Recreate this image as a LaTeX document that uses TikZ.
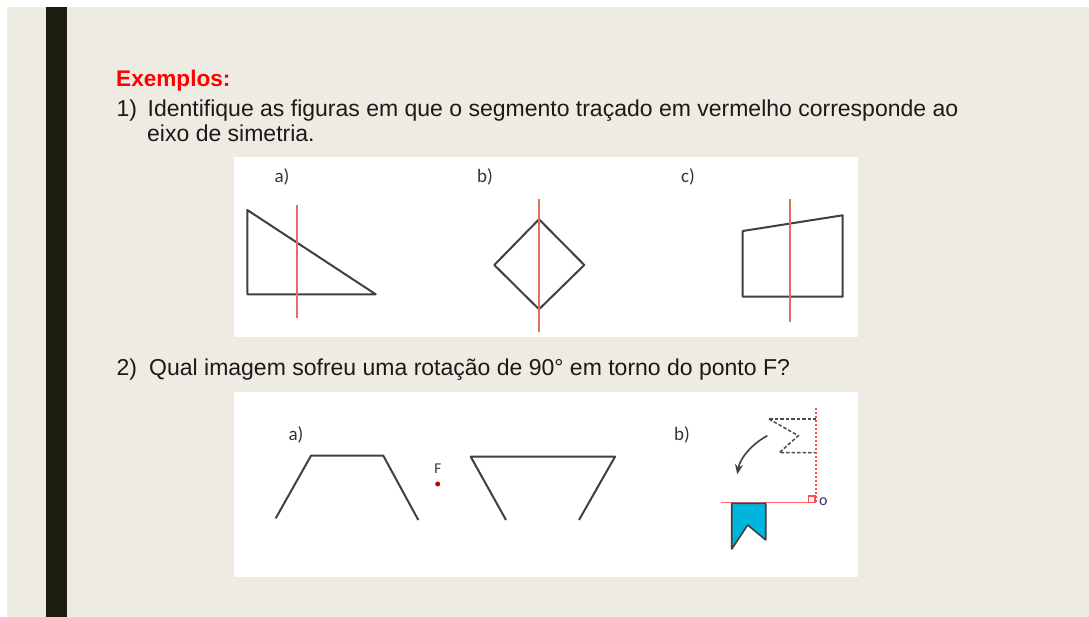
\documentclass[tikz,border=0pt]{standalone}
\usepackage{fontspec}
\setmainfont{Liberation Sans}
\newfontfamily\panelfont{Carlito}
\usetikzlibrary{arrows.meta}
\definecolor{slideBg}{HTML}{EEEBE3}
\definecolor{slideBar}{HTML}{1D1D10}
\definecolor{headRed}{HTML}{FF0000}
\definecolor{bodyInk}{HTML}{1A1A1A}
\definecolor{tagInk}{HTML}{34343C}
\definecolor{axisRed}{HTML}{E0705C}
\definecolor{markRed}{HTML}{FF4B4B}
\definecolor{flagBlue}{HTML}{00B5DD}

\begin{document}
\begin{tikzpicture}[
        x=1pt, y=-1pt,
        >={Stealth[length=10pt, width=8pt]},
        body/.style ={font=\fontsize{23}{27}\selectfont, text=bodyInk, inner sep=0pt, anchor=base west},
        tag/.style  ={font=\panelfont\fontsize{19}{19}\selectfont, text=tagInk, inner sep=0pt},
        panel/.style={fill=white, draw=none},
        outline/.style={draw=black!75, line width=2pt, line join=round},
        axis/.style ={draw=axisRed, line width=1.7pt},
        ghost/.style={draw=black!70, line width=1.5pt, dash pattern=on 3.5pt off 2pt},
    ]
    % slide background, white rim on top and left
    \useasboundingbox (0,0) rectangle (1089,617);
    \fill[white] (0,0) rectangle (1089,617);
    \fill[slideBg] (7,7) rectangle (1089,617);
    \fill[slideBar] (46,7) rectangle (67,617);

    % text
    \node[body, font=\bfseries\fontsize{22.6}{27}\selectfont, text=headRed] (exemplos) at (116,86.7) {Exemplos:};
    \node[body] (num1)  at (116.5,116.7) {1)};
    \node[body] (q1top) at (147.5,116.7) {Identifique as figuras em que o segmento traçado em vermelho corresponde ao};
    \node[body] (q1bot) at (147,141.7)   {eixo de simetria.};
    \node[body] (num2)  at (116.5,375)   {2)};
    \node[body] (q2)    at (149,375)     {Qual imagem sofreu uma rotação de 90° em torno do ponto F?};

    % panel 1: symmetry axes
    \fill[panel] (234,157) rectangle (858,337);
    \node[tag] (symA) at (282,177) {a)};
    \node[tag] (symB) at (485,177) {b)};
    \node[tag] (symC) at (688,177) {c)};

    \draw[outline] (247.3,210) -- (247.3,294.3) -- (375.7,294.3) -- cycle;
    \draw[axis] (297.3,205) -- (297.3,318.3);

    \draw[outline] (539,219.3) -- (584.3,265) -- (539,309.3) -- (494.3,265) -- cycle;
    \draw[axis] (539,199.3) -- (539,331.7);

    \draw[outline] (742.7,231) -- (842.7,215.3) -- (842.7,296.7) -- (742.7,296.7) -- cycle;
    \draw[axis] (790,199.3) -- (790,321.7);

    % panel 2: rotation about F
    \fill[panel] (234,392) rectangle (858,577);
    \node[tag] (rotA) at (296,435) {a)};
    \node[tag] (rotB) at (682,435) {b)};

    \draw[outline] (275.7,518.3) -- (311,455.7) -- (383.3,455.7) -- (418.3,520);
    \draw[outline] (506,520) -- (470.7,456.7) -- (615,456.7) -- (579,520);
    \node[tag, font=\panelfont\fontsize{15}{15}\selectfont] (labF) at (437.7,469) {F};
    \fill[red!80!black] (437.7,484) circle (2.5pt);

    % b) flag turned about o
    \draw[ghost] (769,419) -- (816,419);
    \draw[ghost] (769,419) -- (798.3,435.7) -- (779.3,452.7) -- (816,452.7);
    \draw[markRed, line width=1.4pt, dash pattern=on 2.5pt off 1.5pt] (816,407.7) -- (816,502.7);
    \draw[markRed!85, line width=1.4pt] (720.7,502.7) -- (816,502.7);
    \draw[markRed, line width=1.1pt] (808.5,496) rectangle (815,502.7);
    \node[tag, font=\panelfont\fontsize{16}{16}\selectfont, text=black!55!blue!60!gray] (labO) at (823.3,502) {o};
    \draw[->, black!75, line width=1.6pt] (767.3,435.7) .. controls (752,444) and (740,458) .. (737.3,474.3);
    \filldraw[fill=flagBlue, draw=black!75, line width=1.6pt, line join=round]
        (731.7,503.3) -- (765.7,503.3) -- (765.7,540) -- (747.7,525) -- (731.7,549) -- cycle;
\end{tikzpicture}
\end{document}
